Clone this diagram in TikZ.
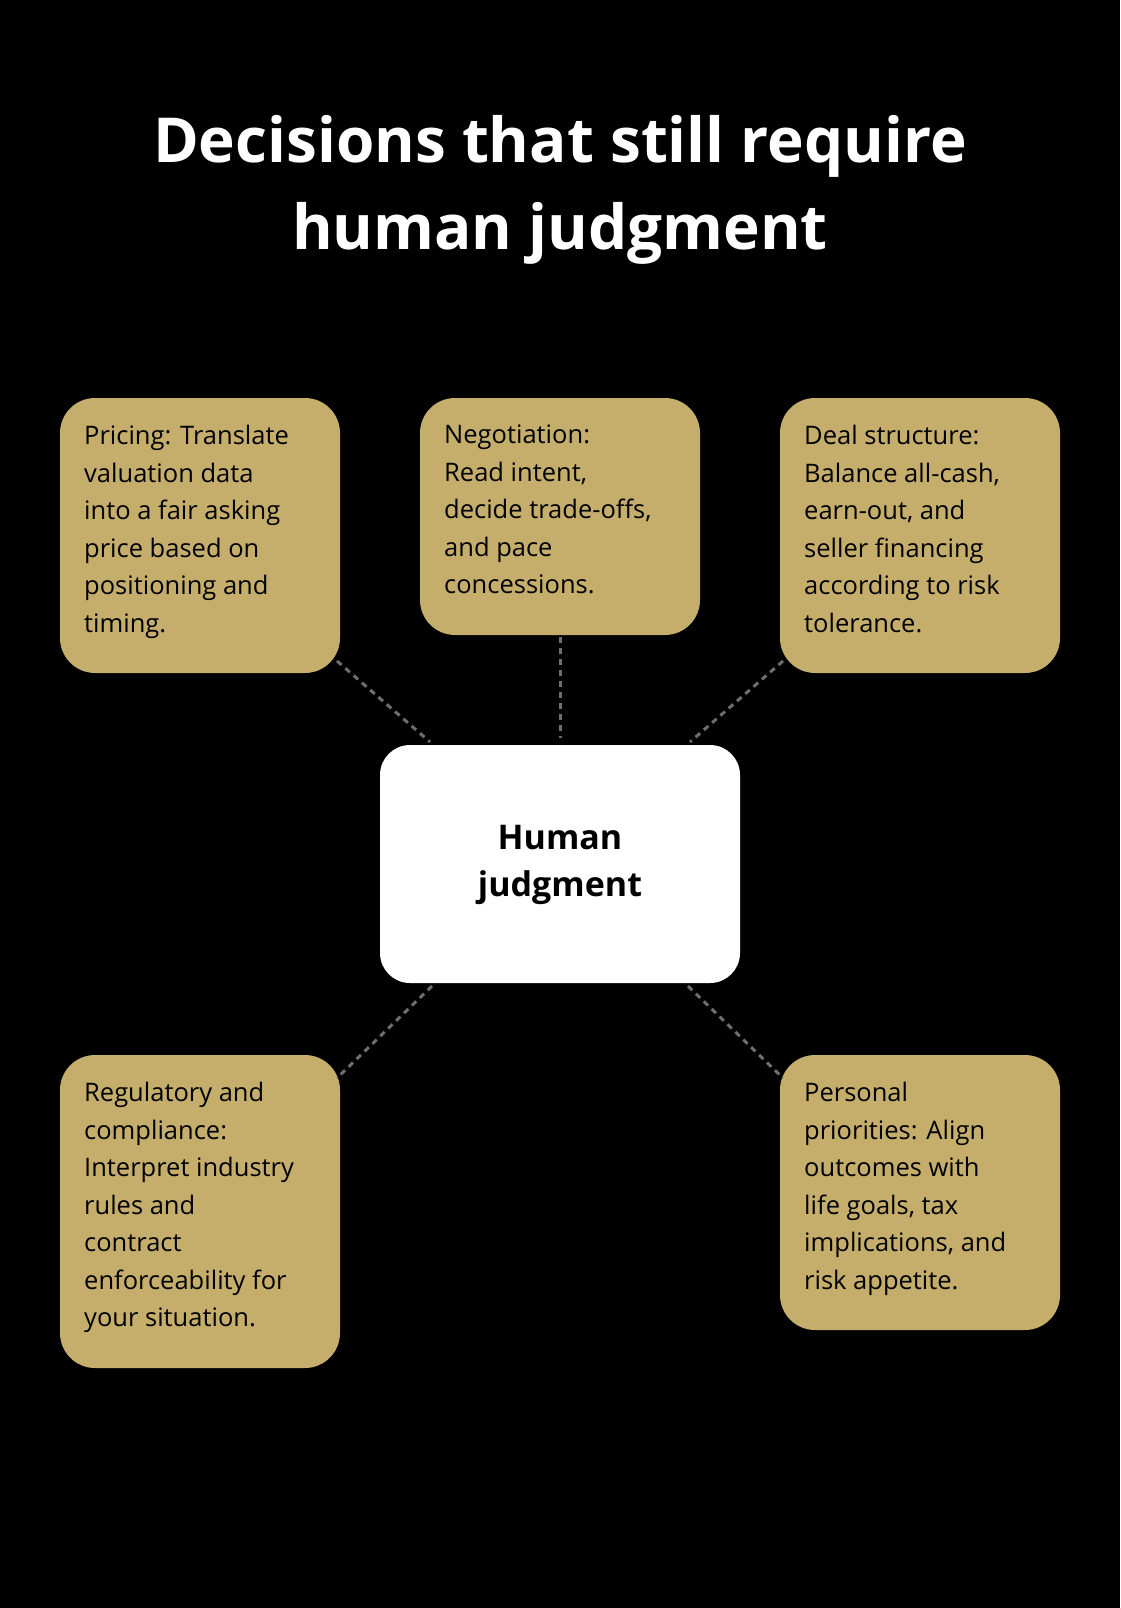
\documentclass[tikz,border=0pt]{standalone}
\usepackage{fontspec}
\setmainfont{Open Sans}
\definecolor{gold}{HTML}{C5AE6C}
\definecolor{dash}{HTML}{6E6E6E}
\begin{document}
\begin{tikzpicture}[x=1pt,y=-1pt,
  card/.style={fill=gold,rounded corners=35pt},
  body/.style={anchor=north west,align=left,inner sep=0pt,font=\fontsize{25.5}{37.5}\selectfont,text=black},
  link/.style={draw=dash,line width=3pt,dash pattern=on 6pt off 5pt}]
\fill[black] (0,0) rectangle (1120,1608);
\useasboundingbox (0,0) rectangle (1120,1608);
\node[text=white,align=center,font=\fontsize{62}{87}\selectfont\bfseries] (title) at (560,190) {Decisions that still require\\human judgment};
\fill[card] (60,398) rectangle (340,673);
\fill[card] (420,398) rectangle (700,635);
\fill[card] (780,398) rectangle (1060,673);
\fill[white,rounded corners=30pt] (380,745) rectangle (740,983);
\fill[card] (60,1055) rectangle (340,1368);
\fill[card] (780,1055) rectangle (1060,1330);
\node[body] (p) at (84,425) {Pricing: Translate\\valuation data\\into a fair asking\\price based on\\positioning and\\timing.};
\node[body] (n) at (444,425) {Negotiation:\\Read intent,\\decide trade-offs,\\and pace\\concessions.};
\node[body] (d) at (804,425) {Deal structure:\\Balance all-cash,\\earn-out, and\\seller financing\\according to risk\\tolerance.};
\node[body] (r) at (84,1082) {Regulatory and\\compliance:\\Interpret industry\\rules and\\contract\\enforceability for\\your situation.};
\node[body] (q) at (804,1082) {Personal\\priorities: Align\\outcomes with\\life goals, tax\\implications, and\\risk appetite.};
\node[align=center,font=\fontsize{34}{47}\selectfont\bfseries] (c) at (560,865) {Human\\judgment};
\coordinate (a1) at (337,661); \coordinate (a2) at (430,742);
\coordinate (b1) at (560,637); \coordinate (b2) at (560,738);
\coordinate (e1) at (783,661); \coordinate (e2) at (690,742);
\coordinate (f1) at (432,986); \coordinate (f2) at (337,1078);
\coordinate (g1) at (688,986); \coordinate (g2) at (783,1078);
\draw[link] (a1)--(a2); \draw[link] (b1)--(b2); \draw[link] (e1)--(e2);
\draw[link] (f1)--(f2); \draw[link] (g1)--(g2);
\end{tikzpicture}
\end{document}
